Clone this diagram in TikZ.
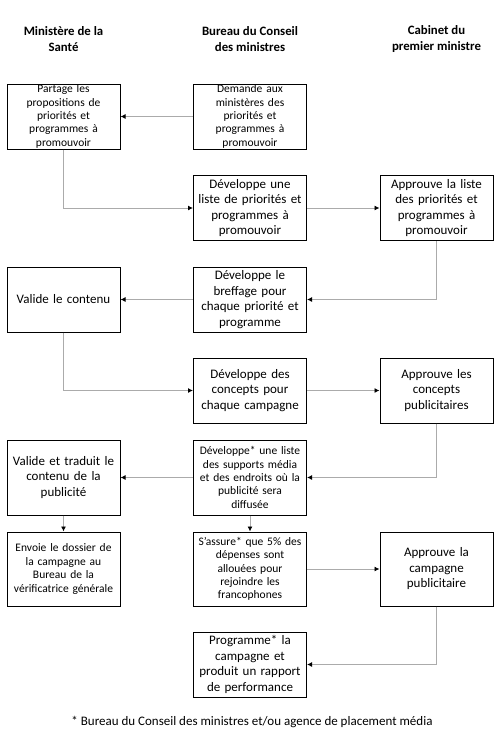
\documentclass[tikz,border=0pt]{standalone}
\usepackage{fontspec}
\setmainfont{Carlito}
\usetikzlibrary{arrows.meta}

\begin{document}
\begin{tikzpicture}[x=1pt,y=-1pt,
 box/.style={draw,line width=1pt,minimum width=\bw,minimum height=65pt,
 text width=\bw,align=center,inner sep=0pt,
 font=\fontsize{13}{15.5}\selectfont},
 smallbox/.style={box,font=\fontsize{11.5}{13.4}\selectfont},
 head/.style={align=center,font=\fontsize{12.8}{16}\selectfont\bfseries},
 link/.style={draw=black!33,line width=0.9pt,
 -{Latex[black,length=5pt,width=5pt]}},
 ]
 \def\bw{113pt}
 \def\ca{63.5}
 \def\cb{250}
 \def\cc{436.5}
 \useasboundingbox (0,0) rectangle (500,742);
 % column titles
 \node[head] (hsante) at (\ca,39) {Minist\`ere de la\\Sant\'e};
 \node[head] (hbureau) at (\cb,39) {Bureau du Conseil\\des ministres};
 \node[head] (hcabinet) at (\cc,39) {Cabinet du\\premier ministre};
 % steps
 \node[smallbox] (partage) at (\ca,116.5) {Partage les\\propositions de\\priorit\'es et\\programmes \`a\\promouvoir};
 \node[smallbox] (demande) at (\cb,116.5) {Demande aux\\minist\`eres des\\priorit\'es et\\programmes \`a\\promouvoir};
 \node[box] (liste) at (\cb,208) {D\'eveloppe une\\liste de priorit\'es et\\programmes \`a\\promouvoir};
 \node[box] (approuveliste) at (\cc,208) {Approuve la liste\\des priorit\'es et\\programmes \`a\\promouvoir};
 \node[box] (valide) at (\ca,299.5) {Valide le contenu};
 \node[box] (breffage) at (\cb,299.5) {D\'eveloppe le\\breffage pour\\chaque priorit\'e et\\programme};
 \node[box] (concepts) at (\cb,390.5) {D\'eveloppe des\\concepts pour\\chaque campagne};
 \node[box] (approuveconcepts) at (\cc,390.5) {Approuve les\\concepts\\publicitaires};
 \node[box,minimum height=75pt] (traduit) at (\ca,477.5) {Valide et traduit le\\contenu de la\\publicit\'e};
 \node[smallbox,minimum height=75pt] (supports) at (\cb,477.5) {D\'eveloppe* une liste\\des supports m\'edia\\et des endroits o\`u la\\publicit\'e sera\\diffus\'ee};
 \node[smallbox,minimum height=74pt] (envoie) at (\ca,569) {Envoie le dossier de\\la campagne au\\Bureau de la\\v\'erificatrice g\'en\'erale};
 \node[smallbox,minimum height=74pt] (assure) at (\cb,569) {S'assure* que 5\% des\\d\'epenses sont\\allou\'ees pour\\rejoindre les\\francophones};
 \node[box,minimum height=74pt] (approuvecampagne) at (\cc,569) {Approuve la\\campagne\\publicitaire};
 \node[box] (programme) at (\cb,664.5) {Programme* la\\campagne et\\produit un rapport\\de performance};
 % footnote
 \node[font=\fontsize{13}{15}\selectfont] (note) at (252,722) {* Bureau du Conseil des ministres et/ou agence de placement m\'edia};
 % connectors
 \draw[link] (demande) -- (partage);
 \draw[link] (partage.south) |- (liste.west);
 \draw[link] (liste) -- (approuveliste);
 \draw[link] (approuveliste.south) |- (breffage.east);
 \draw[link] (breffage) -- (valide);
 \draw[link] (valide.south) |- (concepts.west);
 \draw[link] (concepts) -- (approuveconcepts);
 \draw[link] (approuveconcepts.south) |- (supports.east);
 \draw[link] (supports) -- (traduit);
 \draw[link] (traduit) -- (envoie);
 \draw[link] (supports) -- (assure);
 \draw[link] (assure) -- (approuvecampagne);
 \draw[link] (approuvecampagne.south) |- (programme.east);
\end{tikzpicture}
\end{document}
